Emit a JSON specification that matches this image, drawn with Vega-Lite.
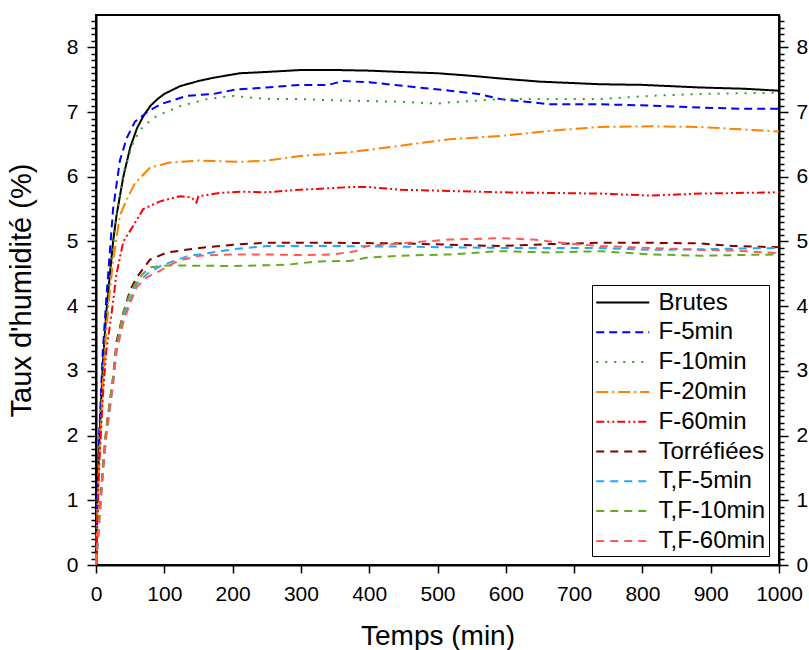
{
  "$schema": "https://vega.github.io/schema/vega-lite/v6.json",
  "width": 683,
  "height": 550,
  "autosize": {"type": "none"},
  "padding": {"left": 96, "top": 15, "right": 30, "bottom": 85},
  "background": "white",
  "config": {
    "font": "Liberation Sans",
    "view": {"stroke": "black", "strokeWidth": 2},
    "axis": {"grid": false, "domainColor": "black", "domainWidth": 2, "tickColor": "black", "tickWidth": 1.5, "labelColor": "black", "labelFont": "Liberation Sans", "labelFontSize": 21, "titleFont": "Liberation Sans", "titleFontSize": 28, "titleFontWeight": "normal", "titleColor": "black", "labelOverlap": false, "labelFlush": false, "labelBound": false},
    "legend": {"strokeColor": "black", "fillColor": "white", "padding": 3, "labelFont": "Liberation Sans", "labelFontSize": 24, "labelColor": "black", "labelOffset": 34.5, "symbolType": "M-1,0H3", "symbolSize": 702, "symbolStrokeWidth": 2, "rowPadding": 2.8, "labelLimit": 300}
  },
  "datasets": {
    "d": [
      {"s":"Brutes","t":0,"h":0},{"s":"Brutes","t":2,"h":1.0},{"s":"Brutes","t":5,"h":1.95},{"s":"Brutes","t":10,"h":3.1},{"s":"Brutes","t":15,"h":3.9},{"s":"Brutes","t":20,"h":4.45},{"s":"Brutes","t":25,"h":5.0},{"s":"Brutes","t":30,"h":5.4},{"s":"Brutes","t":40,"h":6.0},{"s":"Brutes","t":50,"h":6.45},{"s":"Brutes","t":60,"h":6.75},{"s":"Brutes","t":70,"h":6.95},{"s":"Brutes","t":80,"h":7.1},{"s":"Brutes","t":90,"h":7.2},{"s":"Brutes","t":100,"h":7.28},{"s":"Brutes","t":123,"h":7.4},{"s":"Brutes","t":150,"h":7.48},{"s":"Brutes","t":172,"h":7.53},{"s":"Brutes","t":211,"h":7.6},{"s":"Brutes","t":250,"h":7.62},{"s":"Brutes","t":300,"h":7.65},{"s":"Brutes","t":350,"h":7.65},{"s":"Brutes","t":400,"h":7.64},{"s":"Brutes","t":445,"h":7.62},{"s":"Brutes","t":500,"h":7.6},{"s":"Brutes","t":550,"h":7.56},{"s":"Brutes","t":591,"h":7.52},{"s":"Brutes","t":650,"h":7.47},{"s":"Brutes","t":738,"h":7.43},{"s":"Brutes","t":800,"h":7.42},{"s":"Brutes","t":884,"h":7.38},{"s":"Brutes","t":950,"h":7.36},{"s":"Brutes","t":1000,"h":7.33},

      {"s":"F-5min","t":0,"h":0},{"s":"F-5min","t":2,"h":1.1},{"s":"F-5min","t":5,"h":2.1},{"s":"F-5min","t":10,"h":3.3},{"s":"F-5min","t":15,"h":4.1},{"s":"F-5min","t":20,"h":4.8},{"s":"F-5min","t":25,"h":5.5},{"s":"F-5min","t":35,"h":6.25},{"s":"F-5min","t":45,"h":6.6},{"s":"F-5min","t":57,"h":6.85},{"s":"F-5min","t":75,"h":7.0},{"s":"F-5min","t":94,"h":7.12},{"s":"F-5min","t":133,"h":7.25},{"s":"F-5min","t":172,"h":7.28},{"s":"F-5min","t":206,"h":7.35},{"s":"F-5min","t":250,"h":7.38},{"s":"F-5min","t":299,"h":7.42},{"s":"F-5min","t":340,"h":7.42},{"s":"F-5min","t":362,"h":7.48},{"s":"F-5min","t":400,"h":7.46},{"s":"F-5min","t":445,"h":7.41},{"s":"F-5min","t":518,"h":7.33},{"s":"F-5min","t":560,"h":7.28},{"s":"F-5min","t":592,"h":7.2},{"s":"F-5min","t":665,"h":7.12},{"s":"F-5min","t":738,"h":7.12},{"s":"F-5min","t":811,"h":7.1},{"s":"F-5min","t":884,"h":7.07},{"s":"F-5min","t":950,"h":7.05},{"s":"F-5min","t":1000,"h":7.05},

      {"s":"F-10min","t":0,"h":0},{"s":"F-10min","t":2,"h":0.9},{"s":"F-10min","t":5,"h":1.9},{"s":"F-10min","t":10,"h":3.0},{"s":"F-10min","t":15,"h":3.8},{"s":"F-10min","t":20,"h":4.4},{"s":"F-10min","t":30,"h":5.4},{"s":"F-10min","t":40,"h":6.05},{"s":"F-10min","t":55,"h":6.55},{"s":"F-10min","t":69,"h":6.78},{"s":"F-10min","t":89,"h":6.94},{"s":"F-10min","t":123,"h":7.09},{"s":"F-10min","t":162,"h":7.2},{"s":"F-10min","t":201,"h":7.25},{"s":"F-10min","t":250,"h":7.2},{"s":"F-10min","t":300,"h":7.2},{"s":"F-10min","t":350,"h":7.18},{"s":"F-10min","t":400,"h":7.17},{"s":"F-10min","t":445,"h":7.16},{"s":"F-10min","t":500,"h":7.13},{"s":"F-10min","t":518,"h":7.15},{"s":"F-10min","t":592,"h":7.2},{"s":"F-10min","t":665,"h":7.2},{"s":"F-10min","t":738,"h":7.2},{"s":"F-10min","t":811,"h":7.25},{"s":"F-10min","t":884,"h":7.28},{"s":"F-10min","t":1000,"h":7.3},

      {"s":"F-20min","t":0,"h":0},{"s":"F-20min","t":2,"h":0.8},{"s":"F-20min","t":5,"h":1.7},{"s":"F-20min","t":10,"h":2.8},{"s":"F-20min","t":15,"h":3.6},{"s":"F-20min","t":20,"h":4.2},{"s":"F-20min","t":25,"h":4.7},{"s":"F-20min","t":35,"h":5.4},{"s":"F-20min","t":45,"h":5.65},{"s":"F-20min","t":57,"h":5.9},{"s":"F-20min","t":79,"h":6.14},{"s":"F-20min","t":108,"h":6.22},{"s":"F-20min","t":150,"h":6.25},{"s":"F-20min","t":211,"h":6.23},{"s":"F-20min","t":250,"h":6.25},{"s":"F-20min","t":299,"h":6.32},{"s":"F-20min","t":372,"h":6.38},{"s":"F-20min","t":445,"h":6.48},{"s":"F-20min","t":518,"h":6.58},{"s":"F-20min","t":592,"h":6.63},{"s":"F-20min","t":665,"h":6.71},{"s":"F-20min","t":738,"h":6.77},{"s":"F-20min","t":811,"h":6.78},{"s":"F-20min","t":884,"h":6.77},{"s":"F-20min","t":933,"h":6.74},{"s":"F-20min","t":1000,"h":6.7},

      {"s":"F-60min","t":0,"h":0},{"s":"F-60min","t":2,"h":0.7},{"s":"F-60min","t":5,"h":1.6},{"s":"F-60min","t":10,"h":2.6},{"s":"F-60min","t":15,"h":3.3},{"s":"F-60min","t":23,"h":3.9},{"s":"F-60min","t":30,"h":4.5},{"s":"F-60min","t":40,"h":5.0},{"s":"F-60min","t":55,"h":5.25},{"s":"F-60min","t":69,"h":5.5},{"s":"F-60min","t":94,"h":5.62},{"s":"F-60min","t":123,"h":5.7},{"s":"F-60min","t":140,"h":5.68},{"s":"F-60min","t":147,"h":5.6},{"s":"F-60min","t":150,"h":5.7},{"s":"F-60min","t":181,"h":5.75},{"s":"F-60min","t":211,"h":5.77},{"s":"F-60min","t":250,"h":5.76},{"s":"F-60min","t":299,"h":5.8},{"s":"F-60min","t":372,"h":5.84},{"s":"F-60min","t":400,"h":5.84},{"s":"F-60min","t":445,"h":5.8},{"s":"F-60min","t":518,"h":5.78},{"s":"F-60min","t":592,"h":5.76},{"s":"F-60min","t":665,"h":5.75},{"s":"F-60min","t":738,"h":5.74},{"s":"F-60min","t":811,"h":5.71},{"s":"F-60min","t":884,"h":5.74},{"s":"F-60min","t":1000,"h":5.76},

      {"s":"Torréfiées","t":0,"h":0},{"s":"Torréfiées","t":5,"h":0.8},{"s":"Torréfiées","t":10,"h":1.5},{"s":"Torréfiées","t":15,"h":2.1},{"s":"Torréfiées","t":20,"h":2.5},{"s":"Torréfiées","t":25,"h":2.9},{"s":"Torréfiées","t":30,"h":3.45},{"s":"Torréfiées","t":40,"h":3.9},{"s":"Torréfiées","t":50,"h":4.25},{"s":"Torréfiées","t":60,"h":4.45},{"s":"Torréfiées","t":79,"h":4.72},{"s":"Torréfiées","t":104,"h":4.83},{"s":"Torréfiées","t":152,"h":4.9},{"s":"Torréfiées","t":201,"h":4.95},{"s":"Torréfiées","t":250,"h":4.98},{"s":"Torréfiées","t":347,"h":4.98},{"s":"Torréfiées","t":445,"h":4.97},{"s":"Torréfiées","t":518,"h":4.95},{"s":"Torréfiées","t":592,"h":4.93},{"s":"Torréfiées","t":665,"h":4.96},{"s":"Torréfiées","t":738,"h":4.98},{"s":"Torréfiées","t":811,"h":4.98},{"s":"Torréfiées","t":884,"h":4.97},{"s":"Torréfiées","t":933,"h":4.93},{"s":"Torréfiées","t":1000,"h":4.91},

      {"s":"T,F-5min","t":0,"h":0},{"s":"T,F-5min","t":5,"h":0.7},{"s":"T,F-5min","t":10,"h":1.4},{"s":"T,F-5min","t":15,"h":2.0},{"s":"T,F-5min","t":20,"h":2.4},{"s":"T,F-5min","t":25,"h":2.8},{"s":"T,F-5min","t":30,"h":3.3},{"s":"T,F-5min","t":40,"h":3.8},{"s":"T,F-5min","t":50,"h":4.1},{"s":"T,F-5min","t":60,"h":4.35},{"s":"T,F-5min","t":75,"h":4.5},{"s":"T,F-5min","t":94,"h":4.62},{"s":"T,F-5min","t":133,"h":4.77},{"s":"T,F-5min","t":201,"h":4.88},{"s":"T,F-5min","t":250,"h":4.93},{"s":"T,F-5min","t":347,"h":4.93},{"s":"T,F-5min","t":445,"h":4.92},{"s":"T,F-5min","t":518,"h":4.91},{"s":"T,F-5min","t":592,"h":4.9},{"s":"T,F-5min","t":665,"h":4.9},{"s":"T,F-5min","t":738,"h":4.9},{"s":"T,F-5min","t":811,"h":4.87},{"s":"T,F-5min","t":884,"h":4.88},{"s":"T,F-5min","t":1000,"h":4.9},

      {"s":"T,F-10min","t":0,"h":0},{"s":"T,F-10min","t":5,"h":0.8},{"s":"T,F-10min","t":10,"h":1.5},{"s":"T,F-10min","t":15,"h":2.1},{"s":"T,F-10min","t":20,"h":2.5},{"s":"T,F-10min","t":25,"h":2.9},{"s":"T,F-10min","t":30,"h":3.4},{"s":"T,F-10min","t":40,"h":3.9},{"s":"T,F-10min","t":50,"h":4.2},{"s":"T,F-10min","t":60,"h":4.4},{"s":"T,F-10min","t":69,"h":4.5},{"s":"T,F-10min","t":79,"h":4.6},{"s":"T,F-10min","t":104,"h":4.63},{"s":"T,F-10min","t":201,"h":4.62},{"s":"T,F-10min","t":279,"h":4.64},{"s":"T,F-10min","t":323,"h":4.69},{"s":"T,F-10min","t":372,"h":4.7},{"s":"T,F-10min","t":396,"h":4.75},{"s":"T,F-10min","t":445,"h":4.78},{"s":"T,F-10min","t":518,"h":4.8},{"s":"T,F-10min","t":592,"h":4.85},{"s":"T,F-10min","t":665,"h":4.83},{"s":"T,F-10min","t":738,"h":4.85},{"s":"T,F-10min","t":811,"h":4.8},{"s":"T,F-10min","t":884,"h":4.78},{"s":"T,F-10min","t":1000,"h":4.8},

      {"s":"T,F-60min","t":0,"h":0},{"s":"T,F-60min","t":5,"h":0.7},{"s":"T,F-60min","t":10,"h":1.4},{"s":"T,F-60min","t":15,"h":2.0},{"s":"T,F-60min","t":20,"h":2.4},{"s":"T,F-60min","t":25,"h":2.8},{"s":"T,F-60min","t":30,"h":3.3},{"s":"T,F-60min","t":40,"h":3.75},{"s":"T,F-60min","t":50,"h":4.05},{"s":"T,F-60min","t":60,"h":4.3},{"s":"T,F-60min","t":75,"h":4.45},{"s":"T,F-60min","t":94,"h":4.55},{"s":"T,F-60min","t":120,"h":4.7},{"s":"T,F-60min","t":152,"h":4.78},{"s":"T,F-60min","t":201,"h":4.8},{"s":"T,F-60min","t":250,"h":4.8},{"s":"T,F-60min","t":299,"h":4.79},{"s":"T,F-60min","t":347,"h":4.8},{"s":"T,F-60min","t":380,"h":4.85},{"s":"T,F-60min","t":396,"h":4.93},{"s":"T,F-60min","t":445,"h":4.97},{"s":"T,F-60min","t":518,"h":5.03},{"s":"T,F-60min","t":592,"h":5.05},{"s":"T,F-60min","t":640,"h":5.03},{"s":"T,F-60min","t":690,"h":4.97},{"s":"T,F-60min","t":738,"h":4.93},{"s":"T,F-60min","t":811,"h":4.9},{"s":"T,F-60min","t":884,"h":4.87},{"s":"T,F-60min","t":933,"h":4.86},{"s":"T,F-60min","t":1000,"h":4.82}
    ]
  },
  "data": {"name": "d"},
  "layer": [
    {
      "mark": {"type": "line", "strokeWidth": 2},
      "encoding": {
        "x": {"field": "t", "type": "quantitative", "scale": {"domain": [0, 1000], "nice": false},
          "axis": {"title": "Temps (min)", "orient": "bottom", "values": [0,50,100,150,200,250,300,350,400,450,500,550,600,650,700,750,800,850,900,950,1000], "format": "d", "labelExpr": "datum.value % 100 === 0 ? datum.label : ''", "tickSize": {"condition": {"test": "datum.value % 100 !== 0", "value": 5}, "value": 8}, "labelPadding": 10, "titlePadding": 18}},
        "y": {"field": "h", "type": "quantitative", "scale": {"domain": [0, 8.5], "nice": false, "zero": false},
          "axis": {"title": "Taux d'humidité (%)", "titleFontSize": 29, "orient": "left", "values": [0,0.1,0.2,0.3,0.4,0.5,0.6,0.7,0.8,0.9,1,1.1,1.2,1.3,1.4,1.5,1.6,1.7,1.8,1.9,2,2.1,2.2,2.3,2.4,2.5,2.6,2.7,2.8,2.9,3,3.1,3.2,3.3,3.4,3.5,3.6,3.7,3.8,3.9,4,4.1,4.2,4.3,4.4,4.5,4.6,4.7,4.8,4.9,5,5.1,5.2,5.3,5.4,5.5,5.6,5.7,5.8,5.9,6,6.1,6.2,6.3,6.4,6.5,6.6,6.7,6.8,6.9,7,7.1,7.2,7.3,7.4,7.5,7.6,7.7,7.8,7.9,8,8.1,8.2,8.3,8.4], "labelExpr": "datum.value % 1 === 0 ? format(datum.value, 'd') : ''", "tickSize": {"condition": {"test": "datum.value % 1 !== 0", "value": 5}, "value": 9}, "labelPadding": 9, "titlePadding": 30}},
        "color": {"field": "s", "type": "nominal",
          "scale": {"domain": ["Brutes","F-5min","F-10min","F-20min","F-60min","Torréfiées","T,F-5min","T,F-10min","T,F-60min"],
                    "range": ["#000000","#0000ff","#2ca02c","#ff8000","#ff0000","#800000","#1ea8ff","#66aa22","#ff5a5a"]},
          "legend": {"title": null, "orient": "none", "legendX": 496, "legendY": 270}},
        "strokeDash": {"field": "s", "type": "nominal",
          "scale": {"domain": ["Brutes","F-5min","F-10min","F-20min","F-60min","Torréfiées","T,F-5min","T,F-10min","T,F-60min"],
                    "range": [[1,0],[8,5],[2,7],[12,4,2,4],[8,3,2,3,2,3],[8,6],[8,6],[8,6],[8,6]]},
          "legend": {"title": null, "orient": "none", "legendX": 496, "legendY": 270}}
      }
    },
    {
      "mark": {"type": "line", "opacity": 0},
      "encoding": {
        "x": {"field": "t", "type": "quantitative"},
        "y": {"field": "h", "type": "quantitative",
          "axis": {"title": null, "orient": "right", "values": [0,0.1,0.2,0.3,0.4,0.5,0.6,0.7,0.8,0.9,1,1.1,1.2,1.3,1.4,1.5,1.6,1.7,1.8,1.9,2,2.1,2.2,2.3,2.4,2.5,2.6,2.7,2.8,2.9,3,3.1,3.2,3.3,3.4,3.5,3.6,3.7,3.8,3.9,4,4.1,4.2,4.3,4.4,4.5,4.6,4.7,4.8,4.9,5,5.1,5.2,5.3,5.4,5.5,5.6,5.7,5.8,5.9,6,6.1,6.2,6.3,6.4,6.5,6.6,6.7,6.8,6.9,7,7.1,7.2,7.3,7.4,7.5,7.6,7.7,7.8,7.9,8,8.1,8.2,8.3,8.4], "labelExpr": "datum.value % 1 === 0 ? format(datum.value, 'd') : ''", "tickSize": {"condition": {"test": "datum.value % 1 !== 0", "value": 5}, "value": 9}, "labelPadding": 8}},
        "detail": {"field": "s", "type": "nominal"}
      }
    }
  ],
  "resolve": {"axis": {"y": "independent"}}
}
